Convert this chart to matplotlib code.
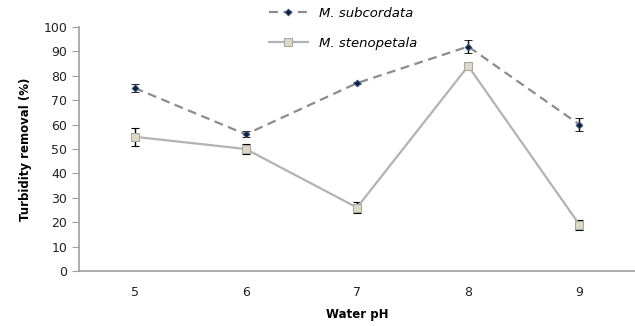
import numpy as np
import matplotlib
matplotlib.use("Agg")
import matplotlib.pyplot as plt
from matplotlib.lines import Line2D

ph = ["5", "6", "7", "8", "9"]
subcordata = [75, 56, 77, 92, 60]
subcordata_err = [1.6, 1.2, 0.5, 2.7, 2.7]
stenopetala = [55, 50, 26, 84, 19]
stenopetala_err = [3.6, 2.0, 2.2, 0.5, 2.1]

fig = plt.figure(figsize=(6.35, 3.26), dpi=100)
ax = fig.add_axes([79/635, 1-271/326, 1-79/635, (271-27)/326])

x = np.arange(1, len(ph) + 1)
sub_style = dict(color='#8c8c8c', ls=(0, (4, 2.5)), lw=1.6, marker='D', ms=3.5,
                 mfc='#10213f', mec='#3a5a8a', mew=0.6)
ste_style = dict(color='#b3b3b3', ls='-', lw=1.6, marker='s', ms=5.5,
                 mfc='#ddd9c3', mec='#a8a8a8', mew=0.8)
ax.errorbar(x, subcordata, yerr=subcordata_err, ecolor='black', elinewidth=1,
            capsize=3, capthick=1, **sub_style)
ax.errorbar(x, stenopetala, yerr=stenopetala_err, ecolor='black', elinewidth=1,
            capsize=3, capthick=1, **ste_style)

ax.set_xlim(0.5, 5.5)
ax.set_ylim(0, 100)
ax.set_yticks(range(0, 101, 10))
ax.set_xticks(x)
ax.set_xticklabels(ph)
ax.tick_params(axis='x', length=0, pad=11, labelsize=9, colors='#222222')
ax.tick_params(axis='y', length=5, color='#a0a0a0', labelsize=9, labelcolor='#222222')
for s in ['top', 'right']:
    ax.spines[s].set_visible(False)
for s in ['left', 'bottom']:
    ax.spines[s].set_color('#a0a0a0')
    ax.spines[s].set_linewidth(1.2)

ax.set_ylabel('Turbidity removal (%)', fontsize=8.5, fontweight='bold', labelpad=8)
ax.set_xlabel('Water pH', fontsize=8.5, fontweight='bold', labelpad=6)

handles = [Line2D([], [], **sub_style), Line2D([], [], **ste_style)]
fig.legend(handles, ['M. subcordata', 'M. stenopetala'], loc='upper left',
           bbox_to_anchor=(262/635, 1.0), frameon=False, handlelength=3,
           labelspacing=1.3, borderaxespad=0.1,
           prop={'style': 'italic', 'size': 9.5})
plt.savefig('out.png', dpi=100)
